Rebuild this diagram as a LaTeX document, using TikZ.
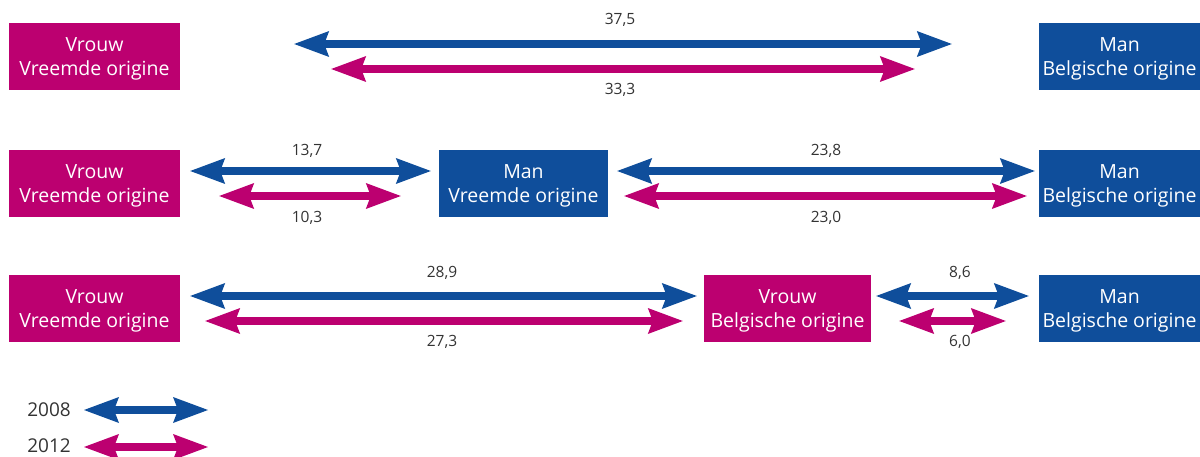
\documentclass[tikz,border=0pt]{standalone}
\usepackage{fontspec}
\setmainfont{Open Sans}
\usetikzlibrary{arrows.meta}
\definecolor{mag}{RGB}{188,0,112}
\definecolor{blu}{RGB}{15,78,155}
\definecolor{txt}{RGB}{51,51,51}
\tikzset{
  box/.style={inner sep=0pt, minimum height=67pt, align=center, text=white,
    text depth=0pt, font=\fontsize{19.5}{24}\selectfont},
  mbox/.style={box, fill=mag},
  bbox/.style={box, fill=blu},
  val/.style={inner sep=0pt, text=txt, font=\fontsize{15.5}{17}\selectfont},
  leg/.style={inner sep=0pt, text=txt, font=\fontsize{19}{21}\selectfont},
  >={Stealth[length=35pt,width=26pt,inset=5pt,line width=0pt]},
  arr/.style={line width=8pt, <->},
  barr/.style={arr, draw=blu, fill=blu},
  marr/.style={arr, draw=mag, fill=mag},
}
\begin{document}
\begin{tikzpicture}[x=1pt,y=-1pt]
\useasboundingbox (0,0) rectangle (1200,457);
% row 1
\node[mbox, minimum width=171pt] (A1) at (94.5,56.5) {Vrouw\\Vreemde origine};
\node[bbox, minimum width=161pt] (B1) at (1119.5,56.5) {Man\\Belgische origine};
\draw[barr, shorten <=114pt, shorten >=87pt] ([yshift=12.5pt]A1.east) -- ([yshift=12.5pt]B1.west);
\draw[marr, shorten <=151pt, shorten >=124pt] ([yshift=-12.5pt]A1.east) -- ([yshift=-12.5pt]B1.west);
\node[val] (v1a) at (620,20) {37,5};
\node[val] (v1b) at (620,90) {33,3};
% row 2
\node[mbox, minimum width=171pt] (A2) at (94.5,183.5) {Vrouw\\Vreemde origine};
\node[bbox, minimum width=169pt] (M2) at (523.5,183.5) {Man\\Vreemde origine};
\node[bbox, minimum width=161pt] (B2) at (1119.5,183.5) {Man\\Belgische origine};
\draw[barr, shorten <=10pt, shorten >=8pt] ([yshift=12.5pt]A2.east) -- ([yshift=12.5pt]M2.west);
\draw[marr, shorten <=39pt, shorten >=38pt] ([yshift=-12.5pt]A2.east) -- ([yshift=-12.5pt]M2.west);
\draw[barr, shorten <=9pt, shorten >=4pt] ([yshift=12.5pt]M2.east) -- ([yshift=12.5pt]B2.west);
\draw[marr, shorten <=16pt, shorten >=12pt] ([yshift=-12.5pt]M2.east) -- ([yshift=-12.5pt]B2.west);
\node[val] (v2a) at (307,151) {13,7};
\node[val] (v2b) at (307,218) {10,3};
\node[val] (v2c) at (826,151) {23,8};
\node[val] (v2d) at (826,218) {23,0};
% row 3
\node[mbox, minimum width=171pt] (A3) at (94.5,308.5) {Vrouw\\Vreemde origine};
\node[mbox, minimum width=167pt] (V3) at (787.5,308.5) {Vrouw\\Belgische origine};
\node[bbox, minimum width=161pt] (B3) at (1119.5,308.5) {Man\\Belgische origine};
\draw[barr, shorten <=10pt, shorten >=7pt] ([yshift=12.5pt]A3.east) -- ([yshift=12.5pt]V3.west);
\draw[marr, shorten <=25pt, shorten >=21pt] ([yshift=-12.5pt]A3.east) -- ([yshift=-12.5pt]V3.west);
\draw[barr, shorten <=5pt, shorten >=10pt] ([yshift=12.5pt]V3.east) -- ([yshift=12.5pt]B3.west);
\draw[marr, shorten <=28pt, shorten >=33pt] ([yshift=-12.5pt]V3.east) -- ([yshift=-12.5pt]B3.west);
\node[val] (v3a) at (442,273) {28,9};
\node[val] (v3b) at (442,342) {27,3};
\node[val] (v3c) at (960,273) {8,6};
\node[val] (v3d) at (960,342) {6,0};
% legend
\node[leg, anchor=east] (L1) at (71,410) {2008};
\node[leg, anchor=east] (L2) at (71,446) {2012};
\coordinate (E1) at (208,410);
\coordinate (E2) at (208,447);
\draw[barr, shorten <=13pt] (L1.east) -- (E1);
\draw[marr, shorten <=13pt] (L2.east |- E2) -- (E2);
\end{tikzpicture}
\end{document}
